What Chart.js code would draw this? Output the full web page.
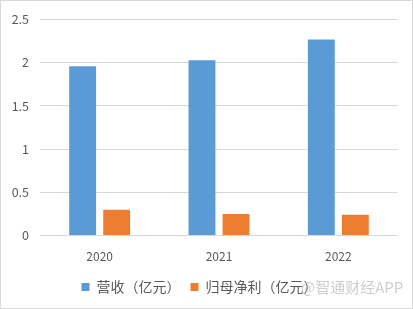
<!DOCTYPE html>
<html>
<head>
<meta charset="utf-8">
<script src="https://cdn.jsdelivr.net/npm/chart.js@4/dist/chart.umd.min.js"></script>
<style>
  html, body { margin: 0; padding: 0; background: #fff; }
  #wrap { position: relative; width: 411px; height: 307px; border: 1px solid #d9d9d9; }
</style>
</head>
<body>
<div id="wrap"><canvas id="myChart" width="411" height="307"></canvas></div>
<script>
var years = ['2020', '2021', '2022'];
var revenue = [1.96, 2.03, 2.27];
var netProfit = [0.30, 0.25, 0.24];
var label1 = '营收（亿元）';
var label2 = '归母净利（亿元）';
var color1 = '#5b9bd5';
var color2 = '#ed7d31';
var fontFam = '"Noto Sans CJK SC", "Liberation Sans", sans-serif';

var watermark = {
  id: 'watermark',
  afterDraw: function (chart) {
    var ctx = chart.ctx;
    ctx.save();
    ctx.font = '15px ' + fontFam;
    ctx.fillStyle = 'rgba(190,190,190,0.75)';
    ctx.textBaseline = 'middle';
    ctx.fillText('@智通财经APP', 300, 286);
    ctx.restore();
  }
};

var ctx = document.getElementById('myChart').getContext('2d');
var myChart = new Chart(ctx, {
  type: 'bar',
  data: {
    labels: years,
    datasets: [{
      label: label1,
      data: revenue,
      backgroundColor: color1,
      categoryPercentage: 0.57,
      barPercentage: 0.79
    },
    {
      label: label2,
      data: netProfit,
      backgroundColor: color2,
      categoryPercentage: 0.57,
      barPercentage: 0.79
    }]
  },
  options: {
    responsive: false,
    animation: false,
    layout: { padding: { left: 0, right: 14, top: 2, bottom: 4 } },
    plugins: {
      tooltip: { enabled: false },
      legend: {
        position: 'bottom',
        labels: {
          boxWidth: 8,
          boxHeight: 8,
          padding: 10,
          color: '#595959',
          font: { size: 14, family: fontFam }
        }
      }
    },
    scales: {
      x: {
        grid: { display: false },
        border: { display: false },
        ticks: { color: '#595959', padding: 6, font: { size: 12, family: fontFam } }
      },
      y: {
        min: 0,
        max: 2.5,
        afterFit: function (scale) { scale.width = 39; },
        grid: { color: '#d9d9d9', drawTicks: false },
        border: { display: false },
        ticks: {
          stepSize: 0.5,
          color: '#595959',
          padding: 11,
          font: { size: 12.5, family: fontFam },
          callback: function (v) { return String(v); }
        }
      }
    }
  },
  plugins: [watermark]
});
</script>
</body>
</html>
